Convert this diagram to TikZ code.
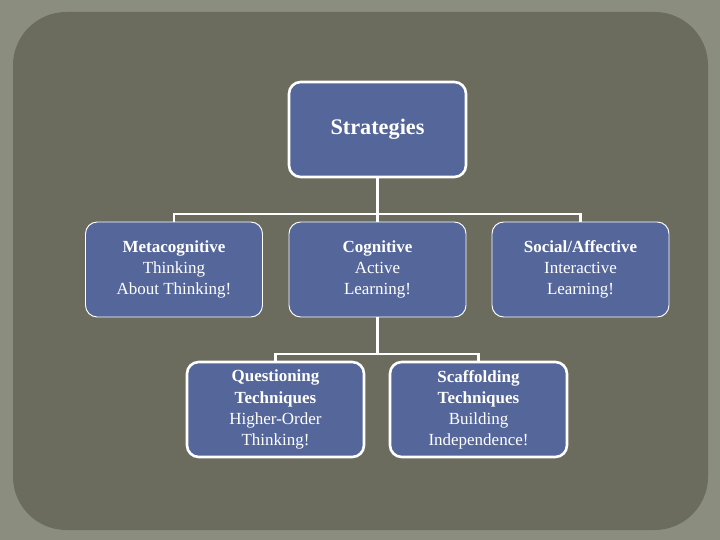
\documentclass[tikz,border=0pt]{standalone}
\usepackage{fontspec}
\setmainfont{Liberation Serif}
\definecolor{frame}{HTML}{8B8E7F}
\definecolor{panel}{HTML}{6B6B5E}
\definecolor{boxblue}{HTML}{55679A}
\begin{document}
\begin{tikzpicture}[x=0.03cm,y=-0.03cm,
	box/.style={draw=white,fill=boxblue,rounded corners=10pt,minimum width=5.31cm,minimum height=2.85cm,align=center,text=white,font=\fontsize{14.5}{18}\selectfont,inner sep=0pt},
	wire/.style={white,line width=2.2pt}]
	\fill[frame] (0,0) rectangle (720,540);
	\fill[panel,rounded corners=1.6cm] (13,12) rectangle (708,530);
	\node[box,line width=2.2pt,font=\fontsize{19}{22}\selectfont] (strat) at (377.5,129.5) {\textbf{Strategies}};
	\node[box,line width=0.8pt] (meta) at (174,269.5) {\textbf{Metacognitive}\\Thinking\\About Thinking!};
	\node[box,line width=0.8pt] (cogn) at (377.5,269.5) {\textbf{Cognitive}\\Active\\Learning!};
	\node[box,line width=0.8pt] (soci) at (580.5,269.5) {\textbf{Social/Affective}\\Interactive\\Learning!};
	\node[box,line width=2.2pt] (ques) at (275.5,409.5) {\textbf{Questioning}\\\textbf{Techniques}\\Higher-Order\\Thinking!};
	\node[box,line width=2.2pt] (scaf) at (478.5,409.5) {\textbf{Scaffolding}\\\textbf{Techniques}\\Building\\Independence!};
	% connectors
	\coordinate (bus1) at (377.5,214);
	\coordinate (bus2) at (377.5,354);
	\draw[wire] (strat) -- (bus1) -| (meta);
	\draw[wire] (bus1) -| (soci);
	\draw[wire] (bus1) -- (cogn);
	\draw[wire] (cogn) -- (bus2) -| (ques);
	\draw[wire] (bus2) -| (scaf);
\end{tikzpicture}
\end{document}
